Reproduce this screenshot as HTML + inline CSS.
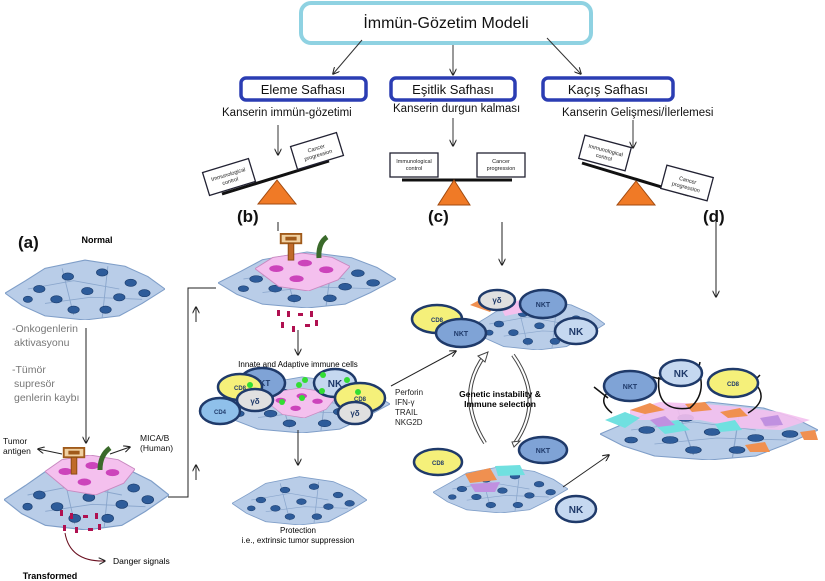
<!DOCTYPE html>
<html><head><meta charset="utf-8"><style>
html,body{margin:0;padding:0;background:#fff;}
svg{display:block;font-family:"Liberation Sans",sans-serif;}
.c text{stroke:none;}
</style></head><body>
<svg width="825" height="581" viewBox="0 0 825 581" xmlns="http://www.w3.org/2000/svg">
<defs>
<marker id="ah" viewBox="0 0 10 10" refX="9" refY="5" markerWidth="7" markerHeight="7" orient="auto"><path d="M0,0 L10,5 L0,10" fill="none" stroke="#222" stroke-width="1.5"/></marker>
<symbol id="tis" viewBox="0 0 140 60" preserveAspectRatio="none">
<polygon points="0,34 18,22 35,10 70,2 105,8 125,18 140,30 120,44 100,56 70,60 35,56 15,46" fill="#b9cde8" stroke="#7f9ec8" stroke-width="1"/>
<path d="M20,30 L60,22 L100,30 M35,44 L75,38 L120,40 M50,10 L60,55 M90,8 L85,58" stroke="#8aa6cc" stroke-width="0.8" fill="none"/>
<g fill="#2e5c9a" stroke="#1d3f70" stroke-width="0.6">
<ellipse cx="30" cy="30" rx="5" ry="3.5"/><ellipse cx="55" cy="18" rx="5" ry="3.5"/><ellipse cx="85" cy="14" rx="5" ry="3.5"/><ellipse cx="110" cy="24" rx="5" ry="3.5"/>
<ellipse cx="45" cy="40" rx="5" ry="3.5"/><ellipse cx="72" cy="32" rx="5" ry="3.5"/><ellipse cx="100" cy="38" rx="5" ry="3.5"/><ellipse cx="122" cy="34" rx="5" ry="3.5"/>
<ellipse cx="60" cy="50" rx="5" ry="3.5"/><ellipse cx="88" cy="50" rx="5" ry="3.5"/><ellipse cx="20" cy="40" rx="4" ry="3"/>
</g></symbol>
<symbol id="pink" viewBox="0 0 80 34" preserveAspectRatio="none">
<polygon points="0,14 15,4 40,0 65,4 80,12 70,24 45,34 20,30" fill="#f4c0ee" stroke="#c889c0" stroke-width="0.8"/>
<g fill="#cc44bb"><ellipse cx="18" cy="14" rx="6" ry="3"/><ellipse cx="42" cy="9" rx="6" ry="3"/><ellipse cx="60" cy="15" rx="6" ry="3"/><ellipse cx="35" cy="23" rx="6" ry="3"/></g>
</symbol>
<symbol id="ag" viewBox="0 0 24 30"><rect x="1" y="1" width="22" height="10" fill="#f0d0a0" stroke="#a05a1a" stroke-width="2"/><rect x="6" y="4" width="12" height="4" fill="#a05a1a"/><rect x="9" y="11" width="6" height="18" fill="#c06a2a" stroke="#8a4a10"/></symbol>
</defs>

<!-- top -->
<rect x="301" y="3" width="290" height="40" rx="10" fill="#fff" stroke="#8fd2e2" stroke-width="4"/>
<text x="446" y="28" font-size="16" text-anchor="middle" fill="#111">İmmün-Gözetim Modeli</text>
<g stroke="#333" stroke-width="1" marker-end="url(#ah)">
<line x1="362" y1="40" x2="333" y2="74"/><line x1="453" y1="45" x2="453" y2="75"/><line x1="547" y1="38" x2="581" y2="74"/>
<line x1="278" y1="125" x2="278" y2="155"/><line x1="453" y1="118" x2="453" y2="146"/><line x1="633" y1="120" x2="633" y2="148"/>
</g>
<g fill="#fff" stroke="#2b3db3" stroke-width="3.5">
<rect x="241" y="78" width="125" height="22" rx="5"/><rect x="391" y="78" width="124" height="22" rx="5"/><rect x="543" y="78" width="130" height="22" rx="5"/>
</g>
<g font-size="13" text-anchor="middle" fill="#111">
<text x="303" y="94">Eleme Safhası</text><text x="453" y="94">Eşitlik Safhası</text><text x="608" y="94">Kaçış Safhası</text>
</g>
<g font-size="11.5" fill="#111">
<text x="222" y="116">Kanserin immün-gözetimi</text><text x="393" y="112">Kanserin durgun kalması</text><text x="562" y="116">Kanserin Gelişmesi/İlerlemesi</text>
</g>

<!-- scales -->
<g font-size="5.5" text-anchor="middle" fill="#222">
<line x1="222" y1="194" x2="329" y2="161" stroke="#111" stroke-width="3"/>
<polygon points="258,204 296,204 277,180" fill="#f07a26" stroke="#a04a10"/>
<g transform="translate(229,177) rotate(-17)"><rect x="-24" y="-12" width="48" height="24" fill="#fff" stroke="#223" stroke-width="1.3"/><text y="-1">Immunological</text><text y="6">control</text></g>
<g transform="translate(317,151) rotate(-17)"><rect x="-24" y="-12" width="48" height="24" fill="#fff" stroke="#223" stroke-width="1.3"/><text y="-1">Cancer</text><text y="6">progression</text></g>

<line x1="402" y1="180" x2="512" y2="180" stroke="#111" stroke-width="3"/>
<polygon points="438,205 470,205 454,180" fill="#f07a26" stroke="#a04a10"/>
<rect x="390" y="153" width="48" height="24" fill="#fff" stroke="#223" stroke-width="1.3"/><text x="414" y="163">Immunological</text><text x="414" y="170">control</text>
<rect x="477" y="153" width="48" height="24" fill="#fff" stroke="#223" stroke-width="1.3"/><text x="501" y="163">Cancer</text><text x="501" y="170">progression</text>

<line x1="582" y1="163" x2="688" y2="195" stroke="#111" stroke-width="3"/>
<polygon points="617,205 655,205 636,181" fill="#f07a26" stroke="#a04a10"/>
<g transform="translate(605,153) rotate(15)"><rect x="-24" y="-12" width="48" height="24" fill="#fff" stroke="#223" stroke-width="1.3"/><text y="-1">Immunological</text><text y="6">control</text></g>
<g transform="translate(687,183) rotate(15)"><rect x="-24" y="-12" width="48" height="24" fill="#fff" stroke="#223" stroke-width="1.3"/><text y="-1">Cancer</text><text y="6">progression</text></g>
</g>

<g font-size="17" font-weight="bold" fill="#111">
<text x="18" y="248">(a)</text><text x="237" y="222">(b)</text><text x="428" y="222">(c)</text><text x="703" y="222">(d)</text>
</g>

<!-- (a) -->
<text x="97" y="243" font-size="9" font-weight="bold" text-anchor="middle">Normal</text>
<use href="#tis" x="5" y="258" width="160" height="62"/>
<g font-size="10.5" fill="#777"><text x="12" y="332">-Onkogenlerin</text><text x="14" y="346">aktivasyonu</text><text x="12" y="373">-Tümör</text><text x="14" y="387">supresör</text><text x="14" y="401">genlerin kaybı</text></g>
<line x1="86" y1="328" x2="86" y2="443" stroke="#222" marker-end="url(#ah)"/>
<use href="#tis" x="4" y="460" width="165" height="70"/>
<use href="#pink" x="45" y="455" width="90" height="40"/>
<use href="#ag" x="62" y="447" width="24" height="28"/>
<path d="M100,470 Q100,455 110,448" stroke="#3a6a2a" stroke-width="5" fill="none"/>
<g font-size="8.5" fill="#111"><text x="3" y="444">Tumor</text><text x="3" y="454">antigen</text><text x="140" y="441">MICA/B</text><text x="140" y="451">(Human)</text></g>
<line x1="62" y1="454" x2="38" y2="449" stroke="#222" marker-end="url(#ah)"/>
<line x1="110" y1="454" x2="130" y2="447" stroke="#222" marker-end="url(#ah)"/>
<g fill="#b01050"><rect x="60" y="510" width="3" height="6"/><rect x="70" y="513" width="3" height="6"/><rect x="83" y="515" width="5" height="3"/><rect x="95" y="513" width="3" height="6"/><rect x="63" y="525" width="3" height="6"/><rect x="75" y="527" width="3" height="6"/><rect x="88" y="528" width="5" height="3"/><rect x="98" y="524" width="3" height="6"/></g>
<path d="M65,533 Q70,562 105,561" stroke="#6a1020" fill="none" marker-end="url(#ah)"/>
<text x="113" y="564" font-size="8.5">Danger signals</text>
<text x="50" y="579" font-size="9" font-weight="bold" text-anchor="middle">Transformed</text>
<polyline points="168,497 188,497 188,288 216,288" fill="none" stroke="#222"/>
<line x1="196" y1="322" x2="196" y2="307" stroke="#222" marker-end="url(#ah)"/>
<line x1="196" y1="480" x2="196" y2="465" stroke="#222" marker-end="url(#ah)"/>

<!-- (b) -->
<use href="#tis" x="218" y="250" width="178" height="58"/>
<use href="#pink" x="255" y="253" width="95" height="38"/>
<use href="#ag" x="279" y="233" width="24" height="28"/>
<path d="M319,258 Q318,243 327,237" stroke="#3a6a2a" stroke-width="5" fill="none"/>
<line x1="278" y1="222" x2="278" y2="231" stroke="#222"/>
<g fill="#b01050"><rect x="277" y="310" width="3" height="6"/><rect x="287" y="311" width="3" height="6"/><rect x="298" y="313" width="5" height="3"/><rect x="310" y="311" width="3" height="6"/><rect x="281" y="322" width="3" height="6"/><rect x="292" y="326" width="3" height="6"/><rect x="305" y="324" width="5" height="3"/><rect x="315" y="320" width="3" height="6"/></g>
<line x1="298" y1="330" x2="298" y2="355" stroke="#222" marker-end="url(#ah)"/>
<text x="298" y="367" font-size="8" text-anchor="middle">Innate and Adaptive immune  cells</text>
<use href="#tis" x="214" y="375" width="176" height="58"/>
<use href="#pink" x="265" y="388" width="70" height="30"/>
<g class="c" stroke="#1f3a6a" stroke-width="2.5" font-size="8" font-weight="bold" text-anchor="middle" fill="#1f3a6a">
<ellipse cx="262" cy="383" rx="23" ry="15" fill="#7fa3d6"/><text x="262" y="386">NKT</text>
<ellipse cx="240" cy="387" rx="22" ry="13" fill="#f5f07a"/><text x="240" y="390" font-size="6">CD8</text>
<ellipse cx="255" cy="400" rx="18" ry="11" fill="#e0e0e0"/><text x="255" y="404">γδ</text>
<ellipse cx="220" cy="411" rx="20" ry="13" fill="#8fc0ea"/><text x="220" y="414" font-size="6">CD4</text>
<ellipse cx="335" cy="383" rx="21" ry="14" fill="#c5d8f0"/><text x="335" y="387" font-size="10">NK</text>
<ellipse cx="360" cy="398" rx="25" ry="15" fill="#f5f07a"/><text x="360" y="401" font-size="6">CD8</text>
<ellipse cx="355" cy="413" rx="17" ry="11" fill="#e0e0e0"/><text x="355" y="416">γδ</text>
</g>
<g fill="#33dd33"><circle cx="299" cy="385" r="3"/><circle cx="305" cy="380" r="3"/><circle cx="323" cy="375" r="3"/><circle cx="347" cy="380" r="3"/><circle cx="282" cy="402" r="3"/><circle cx="302" cy="398" r="3"/><circle cx="322" cy="391" r="3"/><circle cx="250" cy="385" r="3"/><circle cx="358" cy="392" r="3"/></g>
<g font-size="8" fill="#222"><text x="395" y="395">Perforin</text><text x="395" y="405">IFN-γ</text><text x="395" y="415">TRAIL</text><text x="395" y="425">NKG2D</text></g>
<line x1="298" y1="430" x2="298" y2="465" stroke="#222" marker-end="url(#ah)"/>
<use href="#tis" x="232" y="475" width="135" height="50"/>
<text x="298" y="533" font-size="8" text-anchor="middle">Protection</text>
<text x="298" y="543" font-size="8" text-anchor="middle">i.e., extrinsic tumor suppression</text>
<line x1="391" y1="386" x2="456" y2="351" stroke="#222" marker-end="url(#ah)"/>

<!-- (c) -->
<line x1="502" y1="222" x2="502" y2="265" stroke="#222" marker-end="url(#ah)"/>
<use href="#tis" x="470" y="298" width="135" height="52"/>
<polygon points="470,305 485,297 500,300 490,312" fill="#f09050"/><polygon points="500,306 520,300 525,312 505,316" fill="#f4c0ee"/>
<g class="c" stroke="#1f3a6a" stroke-width="2.5" font-size="8" font-weight="bold" text-anchor="middle" fill="#1f3a6a">
<ellipse cx="497" cy="300" rx="18" ry="10" fill="#e0e0e0"/><text x="497" y="303">γδ</text>
<ellipse cx="543" cy="304" rx="23" ry="14" fill="#7fa3d6"/><text x="543" y="307" font-size="7">NKT</text>
<ellipse cx="437" cy="319" rx="25" ry="14" fill="#f5f07a"/><text x="437" y="322" font-size="6">CD8</text>
<ellipse cx="461" cy="333" rx="25" ry="14" fill="#7fa3d6"/><text x="461" y="336" font-size="7">NKT</text>
<ellipse cx="576" cy="331" rx="21" ry="13" fill="#c5d8f0"/><text x="576" y="335" font-size="10">NK</text>
</g>
<path d="M485,443 Q455,395 485,355" fill="none" stroke="#444" stroke-width="4"/><path d="M485,443 Q455,395 485,355" fill="none" stroke="#fff" stroke-width="2"/>
<path d="M513,355 Q545,400 515,443" fill="none" stroke="#444" stroke-width="4"/><path d="M513,355 Q545,400 515,443" fill="none" stroke="#fff" stroke-width="2"/>
<polygon points="478,356 488,352 485,362" fill="#fff" stroke="#444"/><polygon points="512,442 520,441 514,447" fill="#fff" stroke="#444"/>
<text x="500" y="397" font-size="8.5" font-weight="bold" text-anchor="middle">Genetic  instability &amp;</text>
<text x="500" y="407" font-size="8.5" font-weight="bold" text-anchor="middle">Immune selection</text>
<use href="#tis" x="433" y="465" width="135" height="48"/>
<polygon points="465,474 490,468 497,480 470,483" fill="#f09050"/><polygon points="495,466 520,465 525,475 498,476" fill="#70e0e0"/><polygon points="470,484 500,482 495,492 475,492" fill="#c090e0"/>
<g class="c" stroke="#1f3a6a" stroke-width="2.5" font-size="7" font-weight="bold" text-anchor="middle" fill="#1f3a6a">
<ellipse cx="438" cy="462" rx="24" ry="13" fill="#f5f07a"/><text x="438" y="465" font-size="6">CD8</text>
<ellipse cx="543" cy="450" rx="24" ry="13" fill="#7fa3d6"/><text x="543" y="453">NKT</text>
<ellipse cx="576" cy="509" rx="20" ry="13" fill="#c5d8f0"/><text x="576" y="513" font-size="10">NK</text>
</g>
<line x1="563" y1="487" x2="609" y2="455" stroke="#222" marker-end="url(#ah)"/>

<!-- (d) -->
<line x1="716" y1="222" x2="716" y2="297" stroke="#222" marker-end="url(#ah)"/>
<use href="#tis" x="600" y="400" width="218" height="60"/>
<polygon points="630,410 660,402 705,404 740,407 780,412 810,420 780,430 740,428 700,420 660,420 630,420" fill="#f4c0ee" opacity="0.9"/>
<g fill="#70e0e0"><polygon points="605,420 625,412 640,418 625,428"/><polygon points="655,425 678,420 690,430 665,434"/><polygon points="715,424 735,420 742,430 720,432"/></g>
<g fill="#f09050"><polygon points="630,410 650,403 665,410 645,414"/><polygon points="685,404 705,402 712,410 692,412"/><polygon points="720,412 740,408 748,416 728,418"/><polygon points="800,432 815,430 818,440 804,440"/><polygon points="745,445 765,442 770,452 750,452"/></g>
<g fill="#c090e0"><polygon points="650,420 665,416 675,425 658,427"/><polygon points="760,418 778,415 783,425 765,426"/></g>
<g fill="none" stroke="#111" stroke-width="1.5">
<path d="M613,388 Q595,400 612,413"/><path d="M659,377 Q655,413 690,408 Q705,395 700,375"/><path d="M755,383 Q770,400 748,413"/>
<line x1="594" y1="387" x2="608" y2="398"/><line x1="648" y1="376" x2="665" y2="380"/><line x1="697" y1="376" x2="700" y2="362"/><line x1="752" y1="383" x2="760" y2="375"/>
</g>
<g class="c" stroke="#1f3a6a" stroke-width="2.5" font-size="7" font-weight="bold" text-anchor="middle" fill="#1f3a6a">
<ellipse cx="630" cy="386" rx="26" ry="15" fill="#7fa3d6"/><text x="630" y="389">NKT</text>
<ellipse cx="681" cy="373" rx="21" ry="13" fill="#c5d8f0"/><text x="681" y="377" font-size="10">NK</text>
<ellipse cx="733" cy="383" rx="25" ry="14" fill="#f5f07a"/><text x="733" y="386" font-size="6">CD8</text>
</g>
</svg>
</body></html>
